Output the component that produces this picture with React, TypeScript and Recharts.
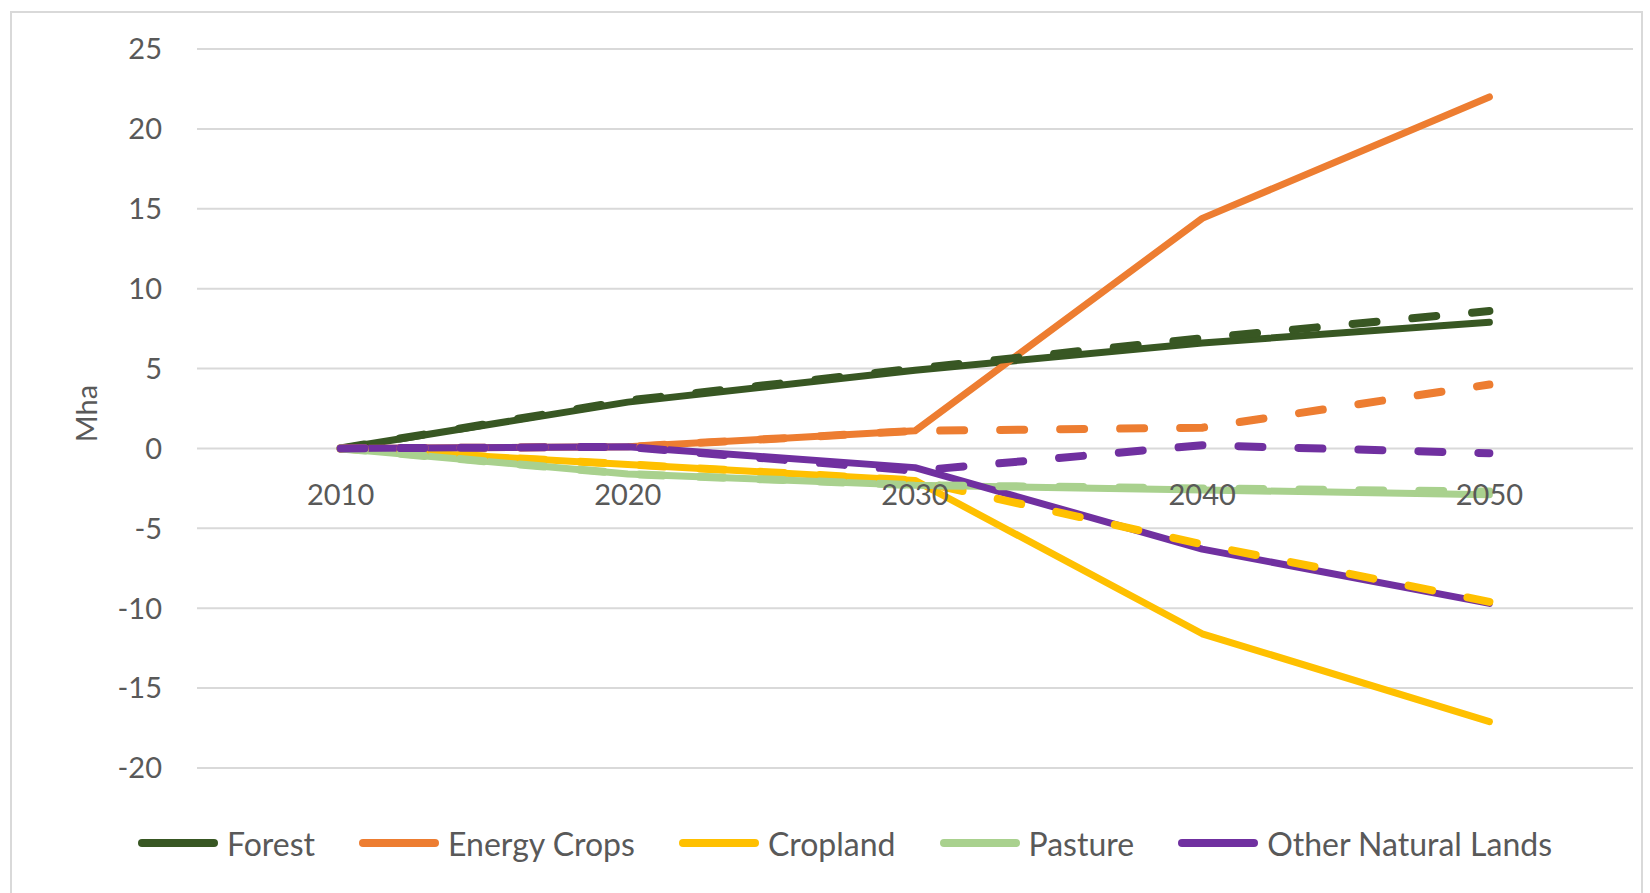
import React from "react";
import { LineChart, Line, XAxis, YAxis, CartesianGrid } from "recharts";

const years = [2010, 2020, 2030, 2040, 2050];
const yTicks = [-20, -15, -10, -5, 0, 5, 10, 15, 20, 25];

// solid = main scenario, dashed = alternative scenario
const forest = [0, 2.9, 4.9, 6.6, 7.9];
const forestDash = [0, 3.0, 5.0, 6.9, 8.6];
const energyCrops = [0, 0.1, 1.1, 14.4, 22.0];
const energyCropsDash = [0, 0.1, 1.1, 1.3, 4.0];
const cropland = [0, -1.0, -2.0, -11.6, -17.1];
const croplandDash = [0, -1.0, -2.0, -6.0, -9.6];
const pasture = [0, -1.6, -2.3, -2.6, -2.9];
const pastureDash = [0, -1.6, -2.3, -2.5, -2.7];
const otherNatural = [0, 0.1, -1.2, -6.3, -9.7];
const otherNaturalDash = [0, 0.1, -1.4, 0.2, -0.3];

const series = [
  { key: "forest", name: "Forest", color: "#385723", solid: forest, dashed: forestDash },
  { key: "energy", name: "Energy Crops", color: "#ED7D31", solid: energyCrops, dashed: energyCropsDash },
  { key: "cropland", name: "Cropland", color: "#FFC000", solid: cropland, dashed: croplandDash },
  { key: "pasture", name: "Pasture", color: "#A9D18E", solid: pasture, dashed: pastureDash },
  { key: "other", name: "Other Natural Lands", color: "#7030A0", solid: otherNatural, dashed: otherNaturalDash },
];

const data = years.map((year, i) => {
  const row: Record<string, number> = { year };
  series.forEach((s) => {
    row[s.key] = s.solid[i];
    row[s.key + "Dash"] = s.dashed[i];
  });
  return row;
});

const W = 1650;
const H = 893;
const PLOT_TOP = 49;
const PLOT_BOTTOM = 768;
const PLOT_LEFT = 197;
const PLOT_RIGHT = 1633;
const Y_MIN = -20;
const Y_MAX = 25;
const FONT = "Lato, 'Open Sans', sans-serif";
const TEXT = "#595959";

// x labels sit just under the zero line, like Excel's axis crossing at 0
const zeroY = PLOT_TOP + ((PLOT_BOTTOM - PLOT_TOP) * Y_MAX) / (Y_MAX - Y_MIN);

const XTick = (props: any) => {
  const { x, payload } = props;
  return (
    <text x={x} y={zeroY + 57} textAnchor="middle" fill={TEXT} fontSize={29} fontFamily={FONT}>
      {payload.value}
    </text>
  );
};

const MhaLabel = (props: any) => {
  const vb = props.viewBox || { x: 0, y: PLOT_TOP, height: PLOT_BOTTOM - PLOT_TOP };
  const cy = vb.y + vb.height / 2 + 5;
  return (
    <text
      transform={`translate(${vb.x + 97}, ${cy}) rotate(-90)`}
      textAnchor="middle"
      fill={TEXT}
      fontSize={29}
      fontFamily={FONT}
    >
      Mha
    </text>
  );
};

export default function App() {
  return (
    <div
      style={{
        position: "absolute",
        left: 0,
        top: 0,
        width: W,
        height: H,
        background: "#fff",
        overflow: "hidden",
        fontFamily: FONT,
      }}
    >
      <div
        style={{
          position: "absolute",
          left: 10,
          top: 11,
          width: 1633,
          height: 900,
          border: "2px solid #d9d9d9",
          boxSizing: "border-box",
        }}
      />
      <LineChart
        width={W}
        height={H}
        data={data}
        margin={{ top: PLOT_TOP, right: W - PLOT_RIGHT, bottom: 0, left: 0 }}
        style={{ position: "absolute", left: 0, top: 0 }}
      >
        <CartesianGrid vertical={false} stroke="#d9d9d9" strokeWidth={2} />
        <XAxis
          dataKey="year"
          type="number"
          domain={[2005, 2055]}
          ticks={years}
          axisLine={false}
          tickLine={false}
          tick={<XTick />}
          height={H - PLOT_BOTTOM}
        />
        <YAxis
          type="number"
          domain={[Y_MIN, Y_MAX]}
          ticks={yTicks}
          width={PLOT_LEFT}
          axisLine={false}
          tickLine={false}
          tickSize={0}
          tickMargin={35}
          tick={{ fill: TEXT, fontSize: 29, fontFamily: FONT }}
          label={<MhaLabel />}
        />
        {series.map((s) => (
          <Line
            key={s.key}
            type="linear"
            dataKey={s.key}
            stroke={s.color}
            strokeWidth={7}
            strokeLinecap="round"
            strokeLinejoin="round"
            dot={false}
            isAnimationActive={false}
          />
        ))}
        {series.map((s) => (
          <Line
            key={s.key + "Dash"}
            type="linear"
            dataKey={s.key + "Dash"}
            stroke={s.color}
            strokeWidth={8}
            strokeDasharray="24 36"
            strokeLinecap="round"
            strokeLinejoin="round"
            dot={false}
            isAnimationActive={false}
          />
        ))}
      </LineChart>
      <div
        style={{
          position: "absolute",
          left: 138,
          top: 823,
          height: 40,
          display: "flex",
          alignItems: "center",
          fontSize: 32,
          color: TEXT,
          whiteSpace: "nowrap",
        }}
      >
        {series.map((s) => (
          <div key={s.key} style={{ display: "flex", alignItems: "center", marginRight: 44 }}>
            <span
              style={{
                display: "inline-block",
                width: 80,
                height: 8,
                borderRadius: 4,
                background: s.color,
                marginRight: 9,
              }}
            />
            <span>{s.name}</span>
          </div>
        ))}
      </div>
    </div>
  );
}
